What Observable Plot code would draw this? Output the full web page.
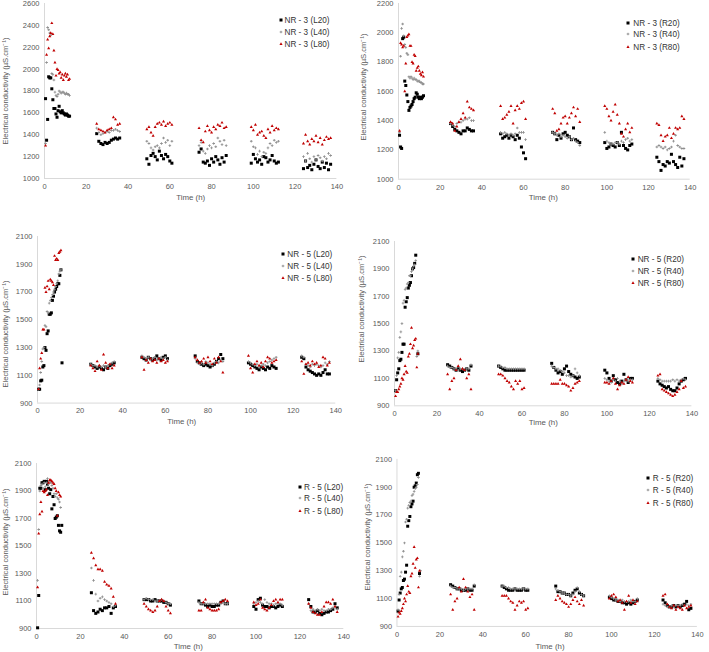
<!DOCTYPE html>
<html>
<head>
<meta charset="utf-8">
<script src="https://cdn.jsdelivr.net/npm/d3@7"></script>
<script src="https://cdn.jsdelivr.net/npm/@observablehq/plot@0.6"></script>
<style>
  body { margin: 0; background: #fff; }
  #page { position: relative; width: 709px; height: 652px; overflow: hidden;
          font-family: "Liberation Sans", Arial, sans-serif; }
  .panel { position: absolute; }
  .ytitle { position: absolute; font-size: 7.6px; color: #595959; white-space: nowrap;
            transform: translate(-50%, -50%) rotate(-90deg); }
  .xtitle { position: absolute; font-size: 7.9px; color: #595959; white-space: nowrap;
            transform: translate(-50%, -50%); }
  .lg-text { position: absolute; font-size: 8.2px; color: #333; white-space: nowrap;
             transform: translateY(-50%); }
  .lg-sym { position: absolute; }
</style>
</head>
<body>
<div id="page"></div>
<script>
// Sampling times (h) shared by every series: start-up run, then five daily runs
const hours = [
  0.5,1,1.5,2,2.5,3,3.5,4,4.5,5,5.5,6,6.5,7,7.5,8,8.5,9,9.5,10,10.5,11,11.5,12,
  25,26,27,28,29,30,31,32,33,34,35,36,
  49,50,51,52,53,54,55,56,57,58,59,60,61,
  74,75,76,77,78,79,80,81,82,83,84,85,86,87,
  99,100,101,102,103,104,105,106,107,108,109,110,111,112,
  124,125,126,127,128,129,130,131,132,133,134,135,136,137
];

// NR - 3, left side (µS/cm)
const nr3L20 = [
  1730,1350,1540,1930,1920,1920,1820,1720,1640,1640,1590,1560,1620,1660,1610,1600,1620,1600,1590,1580,1590,1580,1570,1570,
  1410,1340,1320,1310,1330,1320,1330,1350,1360,1370,1360,1370,
  1180,1130,1210,1230,1200,1170,1250,1210,1180,1220,1200,1160,1140,
  1240,1270,1150,1140,1160,1120,1180,1150,1200,1170,1130,1190,1150,1210,
  1140,1220,1180,1150,1170,1130,1200,1190,1150,1170,1210,1160,1140,1150,
  1090,1160,1100,1120,1080,1130,1170,1110,1090,1150,1100,1140,1080,1130
];
const nr3L40 = [
  1320,2060,2380,2360,2330,2310,1960,1950,1900,1790,1760,1750,1770,1800,1790,1780,1790,1790,1780,1770,1780,1770,1770,1760,
  1460,1420,1400,1410,1420,1430,1420,1440,1440,1450,1440,1430,
  1340,1320,1280,1260,1290,1300,1280,1320,1370,1330,1350,1300,1340,
  1300,1330,1250,1230,1270,1300,1280,1320,1290,1370,1340,1310,1350,1300,
  1340,1290,1280,1220,1250,1200,1240,1230,1280,1320,1300,1350,1330,1340,
  1200,1160,1230,1180,1150,1200,1170,1210,1190,1160,1200,1180,1230,1210
];
const nr3L80 = [
  1300,2130,2270,2190,2300,2330,2420,2320,2170,2060,1940,2000,1990,1960,1970,1920,1950,1900,1940,1960,1930,1950,1900,1910,
  1500,1450,1440,1430,1420,1440,1450,1460,1560,1540,1490,1500,
  1450,1470,1420,1390,1470,1500,1510,1490,1520,1480,1500,1510,1490,
  1460,1350,1330,1430,1480,1440,1420,1470,1450,1490,1480,1510,1460,1470,
  1470,1440,1490,1400,1420,1430,1390,1370,1450,1420,1480,1440,1460,1450,
  1320,1400,1340,1310,1360,1340,1390,1330,1370,1310,1350,1380,1360,1370
];

// NR - 3, right side
const nr3R20 = [
  1300,1220,1210,1960,1970,1670,1640,1575,1530,1470,1490,1500,1510,1530,1550,1560,1590,1580,1560,1550,1560,1550,1560,1570,
  1380,1360,1340,1330,1320,1310,1330,1330,1350,1340,1330,1330,
  1310,1280,1290,1300,1280,1300,1290,1270,1300,1280,1220,1180,1140,
  1320,1310,1270,1300,1280,1310,1320,1300,1290,1270,1350,1270,1260,1250,
  1250,1210,1220,1240,1230,1220,1250,1230,1320,1230,1210,1200,1230,1240,
  1150,1120,1060,1100,1090,1120,1110,1170,1120,1100,1080,1150,1090,1140
];
const nr3R40 = [
  1320,1840,2030,2060,1980,1920,1900,1860,1850,1700,1690,1700,1690,1680,1690,1680,1680,1670,1670,1670,1660,1660,1650,1650,
  1380,1370,1360,1380,1390,1390,1400,1410,1410,1420,1400,1400,
  1320,1310,1320,1310,1300,1310,1300,1310,1350,1320,1320,1320,1270,
  1320,1310,1300,1310,1290,1300,1290,1280,1290,1270,1280,1260,1250,1230,
  1320,1260,1250,1240,1240,1250,1250,1240,1260,1250,1270,1280,1260,1270,
  1220,1230,1220,1210,1220,1200,1210,1220,1260,1300,1230,1220,1210,1210
];
const nr3R80 = [
  1330,1930,1920,1900,1910,1600,1790,1970,1980,1990,1910,1910,1800,1790,1850,1840,1740,1760,1770,1740,1720,1710,1730,1700,
  1390,1380,1330,1360,1390,1410,1450,1420,1530,1490,1480,1470,
  1500,1410,1420,1440,1460,1500,1380,1470,1500,1480,1520,1530,1410,
  1480,1450,1330,1340,1380,1420,1430,1380,1420,1450,1490,1430,1480,1390,
  1500,1480,1430,1400,1460,1510,1440,1380,1310,1290,1340,1380,1320,1350,
  1380,1370,1300,1260,1290,1300,1350,1280,1310,1350,1340,1350,1430,1410
];

// NR - 5, left side
const nr5L20 = [
  1000,1000,1060,1065,1160,1170,1300,1280,1400,1420,1540,1540,1550,1640,1670,1700,1720,1740,1760,1760,1820,1860,1190,null,
  1180,1170,1160,1150,1160,1150,1140,1160,1150,1170,1180,1190,
  1230,1220,1210,1230,1220,1210,1220,1240,1220,1210,1230,1240,1220,
  1240,1200,1190,1180,1170,1180,1170,1160,1170,1180,1200,1220,1250,1220,
  1190,1180,1170,1160,1150,1140,1160,1150,1140,1160,1150,1170,1160,1150,
  1230,1220,1160,1140,1130,1120,1110,1100,1110,1100,1120,1140,1110,1110
];
const nr5L40 = [
  1000,1030,1120,1200,1290,1300,1460,1450,1560,1550,1620,1640,1660,1680,1700,1720,1740,1760,1780,1830,1850,1860,null,null,
  1180,1170,1170,1160,1170,1160,1170,1160,1170,1180,1190,1200,
  1240,1230,1220,1230,1210,1220,1230,1210,1220,1230,1220,1230,1210,
  1220,1190,1180,1190,1180,1200,1190,1180,1170,1190,1200,1190,1210,1200,
  1200,1190,1180,1170,1180,1160,1170,1180,1170,1190,1200,1210,1220,1230,
  1240,1230,1180,1170,1160,1180,1170,1180,1170,1160,1170,1190,1180,1200
];
const nr5L80 = [
  1000,1150,1220,1260,1430,1430,1730,1700,1740,1780,1720,1790,1780,1770,1750,1960,1930,1940,1930,1980,1990,2000,null,null,
  1170,1150,1130,1200,1170,1140,1250,1190,1150,1180,1150,1170,
  1230,1140,1210,1190,1220,1200,1210,1190,1220,1200,1210,1190,1200,
  1230,1210,1190,1200,1220,1190,1230,1200,1180,1220,1190,1230,1200,1120,
  1240,1150,1120,1180,1200,1170,1190,1160,1200,1230,1220,1190,1200,1210,
  1200,1110,1180,1190,1170,1200,1180,1190,1160,1170,1230,1220,1170,1190
];

// NR - 5, right side
const nr5R20 = [
  1010,1090,1140,1170,1230,1240,1290,1350,1350,1620,1660,1690,1760,1780,1800,1850,1900,1910,1940,2000,null,1280,null,null,
  1200,1190,1180,1170,1160,1170,1160,1150,1160,1170,1160,1190,
  1190,1180,1170,1160,1160,1160,1160,1160,1160,1160,1160,1160,1160,
  1210,1180,1160,1140,1150,1130,1170,1190,1150,1130,1120,1110,1100,1110,
  1160,1140,1100,1080,1120,1090,1070,1060,1080,1130,1090,1070,1100,1100,
  1080,1060,1050,1040,1030,1040,1020,1010,1010,1030,1060,1080,1090,1100
];
const nr5R40 = [
  1010,1120,1250,1290,1400,1440,1500,1650,1670,1750,1760,1790,1800,1850,1850,1880,1900,1920,1930,1960,1260,1300,null,null,
  1190,1180,1180,1170,1170,1160,1170,1170,1160,1170,1170,1200,
  1190,1190,1180,1180,1170,1170,1170,1170,1170,1170,1170,1170,1170,
  1190,1180,1170,1170,1160,1150,1140,1120,1120,1110,1120,1170,1140,1120,
  1100,1090,1080,1070,1090,1080,1100,1080,1060,1080,1090,1080,1090,1090,
  1100,1090,1080,1080,1080,1080,1080,1090,1080,1090,1080,1090,1100,1090
];
const nr5R80 = [
  970,1000,1000,1020,1040,1060,1100,1090,1130,1190,1150,1140,1260,1280,1350,1470,1320,1340,1380,1390,1180,1280,null,null,
  1130,1020,1080,1100,1160,1190,1240,1170,1160,1100,1130,1020,
  1130,1130,1120,1100,1080,1070,1040,1020,1080,1060,1080,1020,1030,
  1060,1060,1060,1060,1090,1060,1060,1050,1040,1010,1030,1060,1070,1080,
  1070,1070,1060,1080,1100,1060,1020,1050,1070,1060,1090,1110,1080,1070,
  1120,1130,1020,1010,1000,990,980,970,980,1000,1020,1080,1030,1040
];

// R - 5, left side
const r5L20 = [
  905,1140,1920,1920,1960,1960,1970,1910,1970,1950,1920,1880,1910,1770,1860,1800,1700,1710,1720,1650,1610,1600,1650,null,
  1160,1030,1010,1020,1040,1030,1050,1050,1060,1010,1050,1060,
  1110,1110,1110,1100,1100,1110,1100,1100,1100,1090,1090,1080,1070,
  1100,1080,1080,1070,1060,1070,1060,1060,1070,1070,1090,1100,1080,1080,
  1060,1040,1110,1120,1070,1060,1060,1050,1060,1060,1050,1060,1070,1060,
  1110,1060,1020,1020,1030,1010,1000,1010,1020,1020,1030,1040,1080,1050
];
const r5L40 = [
  1250,1620,1900,1940,1950,1920,1960,1930,1960,1990,1950,1970,1960,1940,1920,1880,1860,1880,1850,1840,1820,1780,null,null,
  1340,1250,1150,1100,1120,1130,1110,1100,1090,1080,1060,1070,
  1110,1120,1110,1110,1110,1100,1100,1100,1110,1100,1090,1080,1080,
  1090,1080,1080,1080,1080,1080,1080,1080,1080,1080,1080,1090,1080,1080,
  1080,1090,1100,1090,1080,1110,1090,1080,1080,1070,1080,1080,1080,1070,
  1080,1030,1040,1030,1040,1030,1040,1030,1030,1040,1040,1050,1060,1040
];
const r5L80 = [
  1200,1590,1730,1820,1750,1900,1890,1900,1910,1870,1960,1980,1980,1970,1960,1950,1920,1900,1720,1890,1870,1860,null,null,
  1450,1410,1360,1330,1330,1320,1240,1220,1210,1190,1130,1080,
  1080,1060,1040,1030,1020,1030,1060,1100,1110,1100,1060,1030,1010,
  1030,1030,1090,1110,1050,1040,1030,1030,1030,1040,1090,1100,1110,1100,
  1090,1070,1080,1110,1050,1040,1030,1050,1070,1100,1110,1090,1110,1110,
  1080,1050,1020,1010,1000,1000,1020,1060,1090,1090,1080,1110,1060,1020
];

// R - 5, right side
const r5R20 = [
  1010,1090,1140,1170,1180,1230,1240,1290,1340,1620,1660,1690,1760,1780,1800,1900,1910,1930,1990,2000,1280,null,null,null,
  1200,1190,1180,1170,1170,1160,1160,1160,1170,1160,1160,1190,
  1190,1180,1170,1160,1160,1160,1170,1160,1160,1160,1170,1160,1160,
  1190,1150,1150,1140,1140,1130,1130,1120,1140,1160,1170,1140,1130,1120,
  1110,1100,1090,1090,1080,1080,1070,1070,1060,1070,1060,1070,1080,1090,
  1090,1070,1050,1040,1040,1050,1040,1050,1040,1050,1060,1080,1020,1030
];
const r5R40 = [
  1020,1130,1260,1290,1400,1440,1500,1650,1670,1750,1770,1790,1800,1840,1850,1870,1890,1900,1920,1970,1260,1300,null,null,
  1190,1180,1180,1170,1170,1170,1160,1170,1170,1170,1170,1200,
  1190,1190,1180,1180,1170,1170,1170,1170,1170,1170,1170,1170,1170,
  1170,1160,1150,1140,1140,1130,1130,1120,1130,1150,1180,1150,1130,1120,
  1120,1110,1100,1090,1090,1080,1090,1080,1080,1080,1090,1080,1080,1100,
  1060,1050,1040,1040,1050,1040,1050,1050,1050,1060,1050,1060,1050,1060
];
const r5R80 = [
  970,1000,990,1010,1030,1060,1100,1080,1130,1190,1150,1140,1260,1280,1350,1470,1320,1380,1390,1180,1300,null,null,null,
  1130,1020,1080,1100,1180,1150,1240,1180,1150,1110,1130,1020,
  1120,1120,1120,1100,1080,1070,1020,1050,1080,1070,1080,1020,1030,
  1090,1120,1100,1080,1070,1060,1040,1060,1090,1110,1080,1060,1090,1050,
  1100,1120,1130,1110,1080,1090,1070,1020,1080,1120,1070,1090,1060,1080,
  1120,1130,1060,1040,1030,1050,1020,1040,1030,1020,1050,1030,1040,1050
];

// Series names shown in each legend
const namesNR3L = ["NR - 3 (L20)", "NR - 3 (L40)", "NR - 3 (L80)"];
const namesNR3R = ["NR - 3 (R20)", "NR - 3 (R40)", "NR - 3 (R80)"];
const namesNR5L = ["NR - 5 (L20)", "NR - 5 (L40)", "NR - 5 (L80)"];
const namesNR5R = ["NR - 5 (R20)", "NR - 5 (R40)", "NR - 5 (R80)"];
const namesR5L  = ["R - 5 (L20)", "R - 5 (L40)", "R - 5 (L80)"];
const namesR5R  = ["R - 5 (R20)", "R - 5 (R40)", "R - 5 (R80)"];

// Axis ticks and titles
const xTicks = [0, 20, 40, 60, 80, 100, 120, 140];
const yTicksNR3L = [1000, 1200, 1400, 1600, 1800, 2000, 2200, 2400, 2600];
const yTicksNR3R = [1000, 1200, 1400, 1600, 1800, 2000, 2200];
const yTicks5 = [900, 1100, 1300, 1500, 1700, 1900, 2100];
const xTitle = "Time (h)";
const yTitle = "Electrical conductivity (µS.cm⁻¹)";

// Marker style per depth (20, 40, 80)
const markers = [
  { symbol: "square",   fill: "#000000", r: 1.7 },
  { symbol: "cross",    fill: "#8f8f8f", r: 1.1 },
  { symbol: "triangle", fill: "#c00000", r: 1.15 }
];

const panels = [
  { series: [nr3L20, nr3L40, nr3L80], names: namesNR3L, yDomain: [1000, 2600], yTicks: yTicksNR3L },
  { series: [nr3R20, nr3R40, nr3R80], names: namesNR3R, yDomain: [1000, 2200], yTicks: yTicksNR3R },
  { series: [nr5L20, nr5L40, nr5L80], names: namesNR5L, yDomain: [900, 2100], yTicks: yTicks5 },
  { series: [nr5R20, nr5R40, nr5R80], names: namesNR5R, yDomain: [900, 2100], yTicks: yTicks5 },
  { series: [r5L20, r5L40, r5L80],    names: namesR5L,  yDomain: [900, 2100], yTicks: yTicks5 },
  { series: [r5R20, r5R40, r5R80],    names: namesR5R,  yDomain: [900, 2100], yTicks: yTicks5 }
];

// Page placement of each panel: plot frame [left, right, top, bottom],
// axis-title centres and legend anchor positions
const layout = [
  { frame: [44.3, 336.7, 3.3, 178.3],   xt: [190.7, 196.7], yt: [5, 91],     lg: { mx: 280.7, tx: 284.5, rows: [19.7, 32, 44] } },
  { frame: [398.3, 690, 3.3, 179],      xt: [543.3, 196.7], yt: [363.3, 87], lg: { mx: 628.3, tx: 633.3, rows: [22.7, 34.3, 46.7] } },
  { frame: [36.7, 335, 235.7, 402.3],   xt: [181.7, 421],   yt: [5, 334],    lg: { mx: 283.3, tx: 287.3, rows: [254.3, 266.3, 278.3] } },
  { frame: [394.3, 691.7, 240.7, 405],  xt: [543.3, 421.7], yt: [361, 309],  lg: { mx: 633.3, tx: 637.7, rows: [259, 270.7, 282.7] } },
  { frame: [36, 343.3, 463.3, 628.3],   xt: [188.3, 646],   yt: [5, 542],    lg: { mx: 300, tx: 304, rows: [486.7, 498.3, 510.7] } },
  { frame: [397.3, 701.7, 459, 628.3],  xt: [550, 646],     yt: [366.7, 537], lg: { mx: 648.3, tx: 652.7, rows: [478.3, 490, 502.7] } }
];

const page = document.getElementById("page");
const rowsOf = (vals) => hours.map((t, i) => ({ t, v: vals[i] })).filter(d => d.v != null);

function symbolPath(name, r) {
  const types = { square: d3.symbolSquare, cross: d3.symbolCross, triangle: d3.symbolTriangle };
  return d3.symbol(types[name], Math.PI * r * r)();
}

panels.forEach((p, k) => {
  const L = layout[k];
  const [fl, fr, ft, fb] = L.frame;
  const mL = 40, mR = 12, mT = 8, mB = 18;

  const chart = Plot.plot({
    width: fr - fl + mL + mR,
    height: fb - ft + mT + mB,
    marginLeft: mL, marginRight: mR, marginTop: mT, marginBottom: mB,
    style: { fontSize: "7.5px", fontFamily: "'Liberation Sans', Arial, sans-serif", color: "#595959", background: "transparent" },
    x: { domain: [0, 140], ticks: xTicks, tickSize: 0, tickPadding: 5, tickFormat: "d", label: null },
    y: { domain: p.yDomain, ticks: p.yTicks, tickSize: 0, tickPadding: 5, tickFormat: "d", label: null },
    marks: [
      Plot.ruleX([0], { stroke: "#d9d9d9" }),
      Plot.ruleY([p.yDomain[0]], { stroke: "#d9d9d9" }),
      ...p.series.map((vals, i) =>
        Plot.dot(rowsOf(vals), { x: "t", y: "v", symbol: markers[i].symbol, fill: markers[i].fill, r: markers[i].r })
      )
    ]
  });
  const holder = document.createElement("div");
  holder.className = "panel";
  holder.style.left = (fl - mL) + "px";
  holder.style.top = (ft - mT) + "px";
  holder.appendChild(chart);
  page.appendChild(holder);

  // axis titles
  const xt = document.createElement("div");
  xt.className = "xtitle";
  xt.textContent = xTitle;
  xt.style.left = L.xt[0] + "px";
  xt.style.top = L.xt[1] + "px";
  page.appendChild(xt);

  const yt = document.createElement("div");
  yt.className = "ytitle";
  yt.textContent = yTitle;
  yt.style.left = L.yt[0] + "px";
  yt.style.top = L.yt[1] + "px";
  page.appendChild(yt);

  // legend
  p.names.forEach((name, i) => {
    const y = L.lg.rows[i];
    const sym = d3.create("svg").attr("class", "lg-sym").attr("width", 8).attr("height", 8)
      .style("left", (L.lg.mx - 4) + "px").style("top", (y - 4) + "px");
    sym.append("path").attr("transform", "translate(4,4)")
      .attr("d", symbolPath(markers[i].symbol, markers[i].r)).attr("fill", markers[i].fill);
    page.appendChild(sym.node());
    const txt = document.createElement("div");
    txt.className = "lg-text";
    txt.textContent = name;
    txt.style.left = L.lg.tx + "px";
    txt.style.top = y + "px";
    page.appendChild(txt);
  });
});
</script>
</body>
</html>
